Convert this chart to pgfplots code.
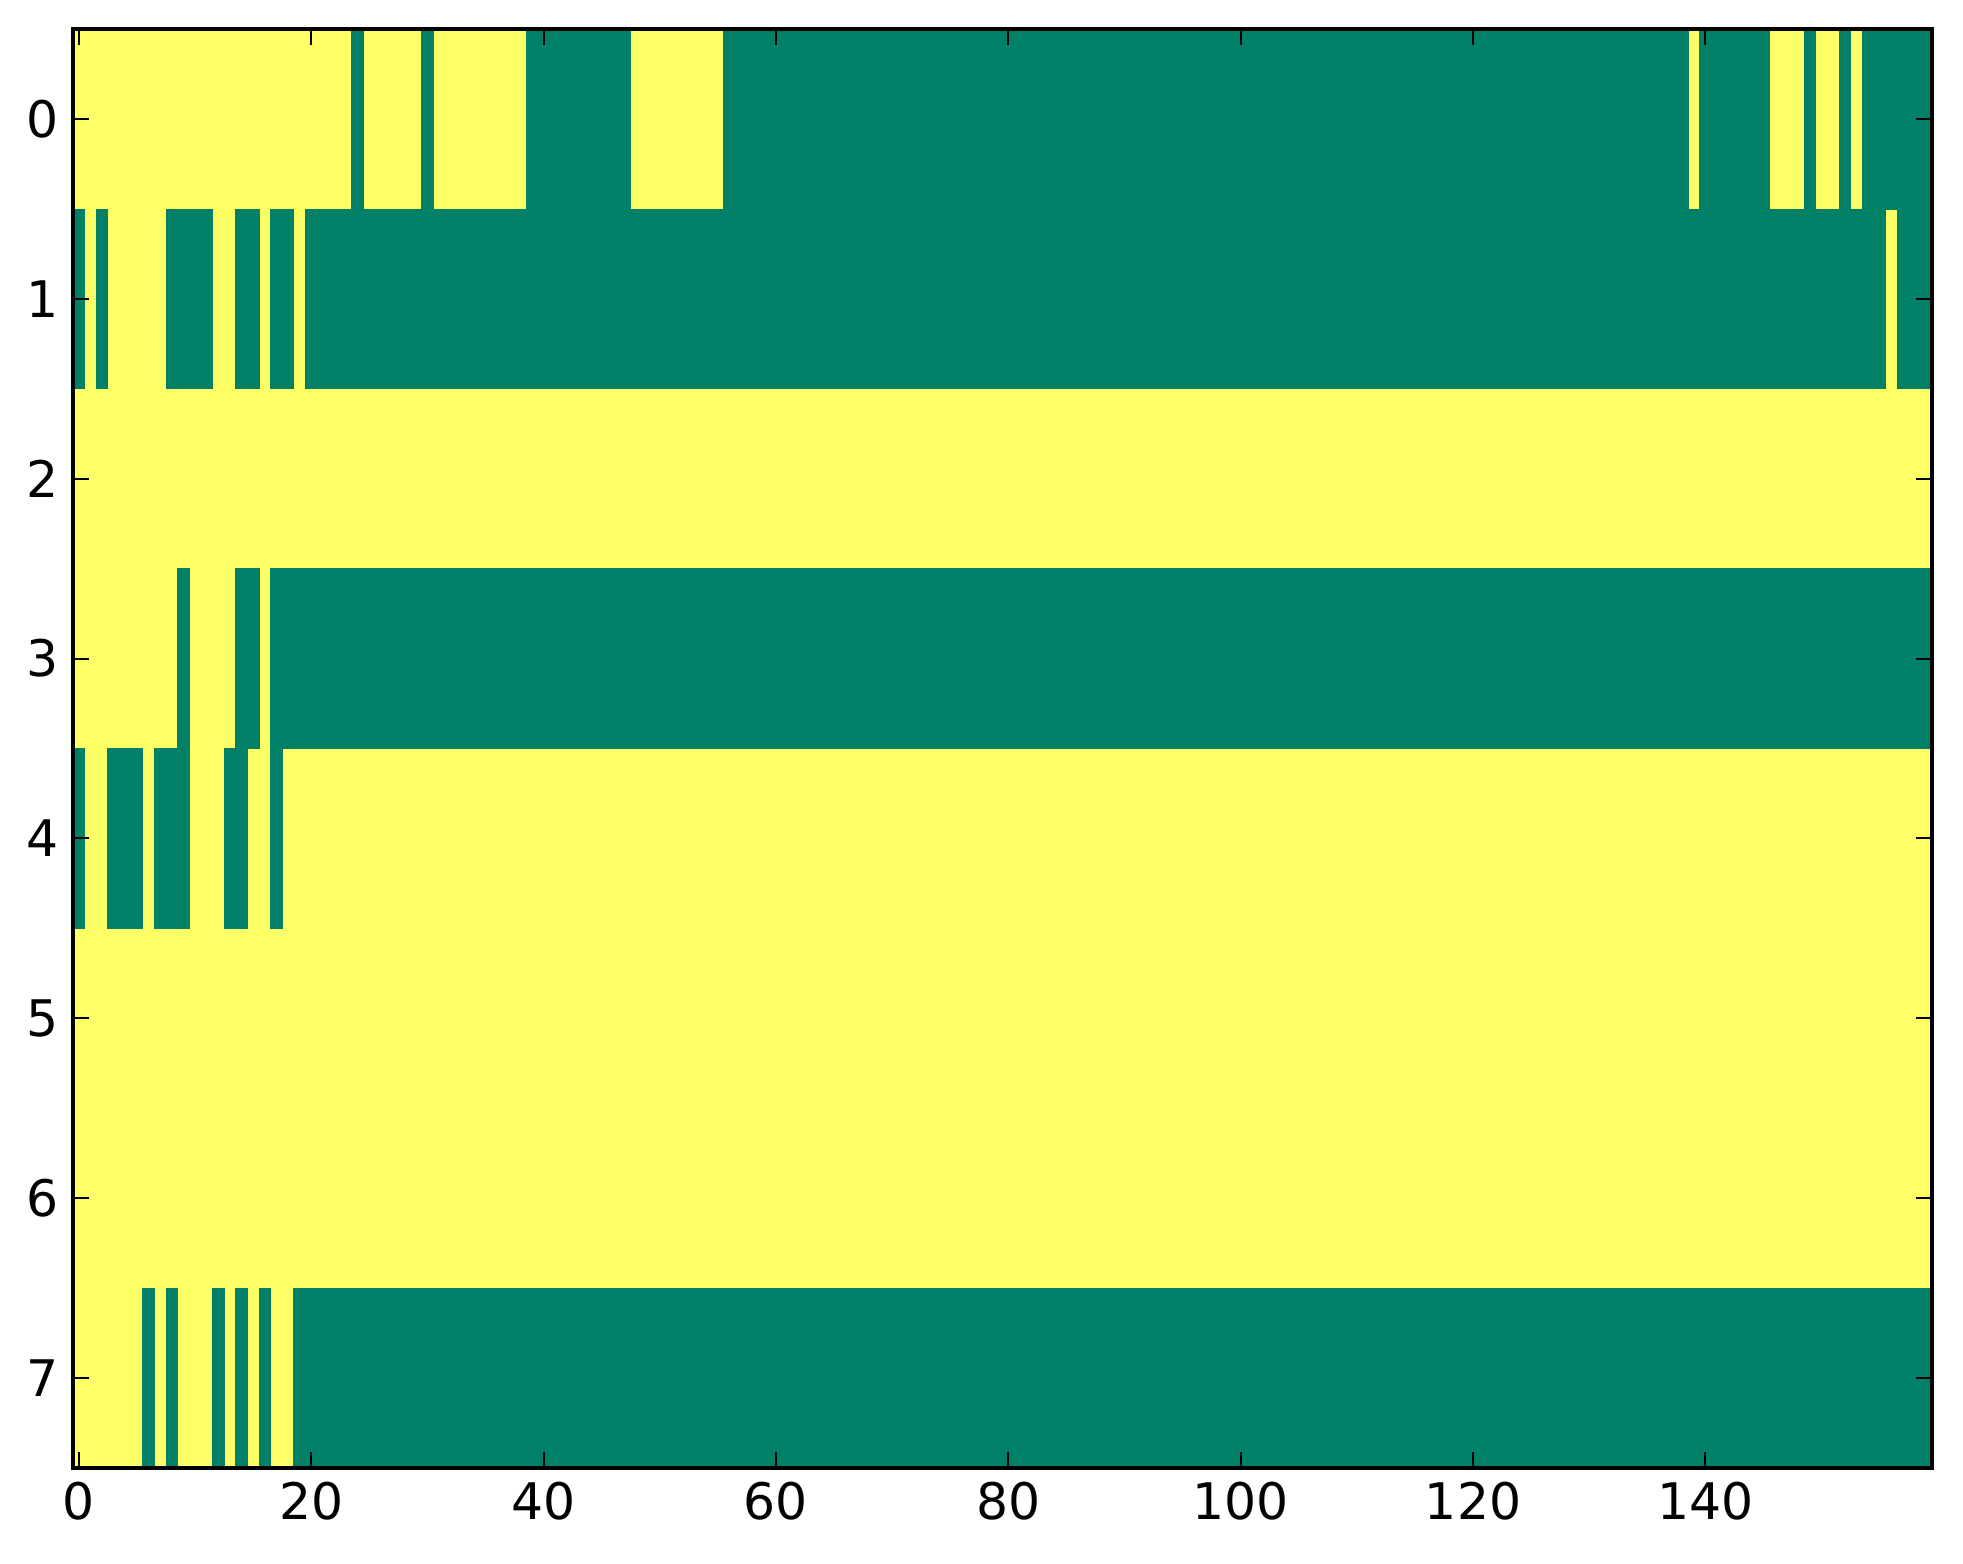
\documentclass[border=0pt]{standalone}
\usepackage{fontspec}
\setmainfont{DejaVu Sans}
\usepackage{pgfplots}
\pgfplotsset{compat=1.18}
\definecolor{sgreen}{rgb}{0,0.5,0.4}
\definecolor{syellow}{rgb}{1,1,0.4}
% green run: x-start x-end y-top y-bottom
\newcommand{\G}[4]{\addplot[fill=sgreen, draw=sgreen, line width=0.2pt, forget plot] coordinates {(#1,#3) (#2,#3) (#2,#4) (#1,#4)} -- cycle;}
\begin{document}
\begin{tikzpicture}
\begin{axis}[
  at={(0,0)}, anchor=south west,
  scale only axis, width=464.75pt, height=359.75pt,
  xmin=-0.5, xmax=159.5, ymin=-0.5, ymax=7.5,
  y dir=reverse,
  xtick={0,20,...,140}, ytick={0,1,...,7},
  tick align=inside, major tick length=4pt,
  tick style={black, line width=0.5pt},
  axis line style={black, line width=1pt},
  ticklabel style={font=\fontsize{12.6}{15}\selectfont},
  /pgf/number format/assume math mode=true,
  axis on top,
]
% full image area (value 1)
\addplot[fill=syellow, draw=none, forget plot] coordinates {(-0.5,-0.5) (159.5,-0.5) (159.5,7.5) (-0.5,7.5)} -- cycle;
% row 0
\G{23.5}{24.5}{-0.5}{0.5}
\G{29.5}{30.5}{-0.5}{0.5}
\G{38.5}{47.5}{-0.5}{0.5}
\G{55.5}{138.5}{-0.5}{0.5}
\G{139.5}{145.5}{-0.5}{0.5}
\G{148.5}{149.5}{-0.5}{0.5}
\G{151.5}{152.5}{-0.5}{0.5}
\G{153.5}{159.5}{-0.5}{0.5}
% row 1
\G{-0.5}{0.5}{0.5}{1.5}
\G{1.5}{2.5}{0.5}{1.5}
\G{7.5}{11.5}{0.5}{1.5}
\G{13.5}{15.5}{0.5}{1.5}
\G{16.5}{18.5}{0.5}{1.5}
\G{19.5}{155.5}{0.5}{1.5}
\G{156.5}{159.5}{0.5}{1.5}
% row 3
\G{8.5}{9.5}{2.5}{3.5}
\G{13.5}{15.5}{2.5}{3.5}
\G{16.5}{159.5}{2.5}{3.5}
% row 4
\G{-0.5}{0.5}{3.5}{4.5}
\G{2.5}{5.5}{3.5}{4.5}
\G{6.5}{9.5}{3.5}{4.5}
\G{12.5}{14.5}{3.5}{4.5}
\G{16.5}{17.5}{3.5}{4.5}
% row 7
\G{5.5}{6.5}{6.5}{7.5}
\G{7.5}{8.5}{6.5}{7.5}
\G{11.5}{12.5}{6.5}{7.5}
\G{13.5}{14.5}{6.5}{7.5}
\G{15.5}{16.5}{6.5}{7.5}
\G{18.5}{159.5}{6.5}{7.5}
\end{axis}
\pgfresetboundingbox
\useasboundingbox (-18.25pt,-24pt) rectangle (472.5pt,367pt);
\end{tikzpicture}
\end{document}
